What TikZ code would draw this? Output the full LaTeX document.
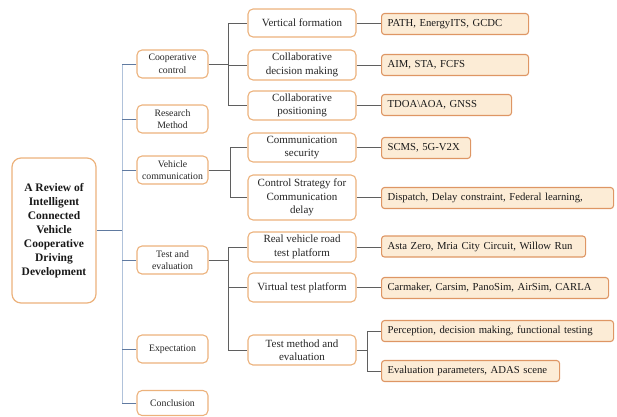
\documentclass[tikz,border=0pt]{standalone}
\usepackage{fontspec}
\setmainfont{Liberation Serif}
\begin{document}
\begin{tikzpicture}[x=1pt,y=-1pt,
  every node/.style={inner sep=1pt},
  rootbox/.style={draw=boxline,fill=white,line width=1.2pt,rounded corners=9pt,
    minimum width=84pt,minimum height=145pt,align=center,
    font=\rmfamily\fontsize{11.5}{14}\selectfont\bfseries,text=black!90},
  lvlone/.style={draw=boxline,fill=white,line width=1.1pt,rounded corners=5pt,
    minimum width=71pt,minimum height=28pt,align=center,
    font=\rmfamily\fontsize{9.8}{12.5}\selectfont,text=black!85},
  lvltwo/.style={draw=boxline,fill=white,line width=1.1pt,rounded corners=5pt,
    minimum width=108pt,align=center,
    font=\rmfamily\fontsize{11}{13.5}\selectfont,text=black!85},
  leaf/.style={draw=leafline,fill=leaffill,line width=1.1pt,rounded corners=3pt,
    minimum height=21pt,anchor=west,align=left,inner xsep=6pt,text width=#1,
    font=\rmfamily\fontsize{10.7}{13}\selectfont,text=black!90},
  trunk/.style={draw=trunkcol,line width=1pt},
  twig/.style={draw=twigcol,line width=1pt},
  branch/.style={draw=branchcol,line width=0.9pt}
]
\definecolor{boxline}{RGB}{236,178,124}
\definecolor{leafline}{RGB}{222,150,100}
\definecolor{leaffill}{RGB}{252,236,214}
\definecolor{trunkcol}{RGB}{176,194,218}
\definecolor{twigcol}{RGB}{96,122,160}
\definecolor{branchcol}{RGB}{95,95,95}

\useasboundingbox (0,0) rectangle (617,416);

% root
\node[rootbox] (root) at (54,230.5) {A Review of\\Intelligent\\Connected\\Vehicle\\Cooperative\\Driving\\Development};

% first level
\node[lvlone] (cc) at (172.5,64) {Cooperative\\control};
\node[lvlone] (rm) at (172.5,119) {Research\\Method};
\node[lvlone] (vc) at (172.5,170) {Vehicle\\communication};
\node[lvlone] (te) at (172.5,260) {Test and\\evaluation};
\node[lvlone] (ex) at (172.5,349) {Expectation};
\node[lvlone,minimum height=25pt] (co) at (172.5,403) {Conclusion};

% second level
\node[lvltwo,minimum height=28pt] (vf)  at (302,23)    {Vertical formation};
\node[lvltwo,minimum height=30pt] (cdm) at (302,65)    {Collaborative\\decision making};
\node[lvltwo,minimum height=29pt] (cp)  at (302,105.5) {Collaborative\\positioning};
\node[lvltwo,minimum height=29pt] (cs)  at (302,147.5) {Communication\\security};
\node[lvltwo,minimum height=45pt] (csc) at (302,197.5) {Control Strategy for\\Communication\\delay};
\node[lvltwo,minimum height=30pt] (rv)  at (302,247)   {Real vehicle road\\test platform};
\node[lvltwo,minimum height=29pt] (vt)  at (302,287.5) {Virtual test platform};
\node[lvltwo,minimum height=30pt] (tm)  at (302,350)   {Test method and\\evaluation};

% third level (text width = box width - 14pt)
\node[leaf=135pt] (l1) at (381,24)    {PATH, EnergyITS, GCDC};
\node[leaf=135pt] (l2) at (381,65)    {AIM, STA, FCFS};
\node[leaf=118pt] (l3) at (381,105)   {TDOA\textbackslash AOA, GNSS};
\node[leaf=77pt]  (l4) at (381,148)   {SCMS, 5G-V2X};
\node[leaf=220pt] (l5) at (381,198)   {Dispatch, Delay constraint, Federal learning,};
\node[leaf=192pt] (l6) at (381,246.5) {Asta Zero, Mria City Circuit, Willow Run};
\node[leaf=215pt] (l7) at (381,288)   {Carmaker, Carsim, PanoSim, AirSim, CARLA};
\node[leaf=220pt] (l8) at (381,331)   {Perception, decision making, functional testing};
\node[leaf=166pt] (l9) at (381,371)   {Evaluation parameters, ADAS scene};

% trunk from the root to the first level
\coordinate (tk) at (122,230.5);
\draw[twig] (root.east) -- (tk);
\draw[trunk] (122,64) -- (122,403);
\foreach \n in {cc,rm,vc,te,ex,co}
  \draw[twig] (\n.west) -- (\n.west -| tk);

% cooperative control branches
\coordinate (bcc) at (228,64);
\draw[branch] (cc.east) -- (bcc);
\draw[branch] (vf.west -| bcc) -- (cp.west -| bcc);
\foreach \n in {vf,cdm,cp}
  \draw[branch] (\n.west -| bcc) -- (\n.west);

% vehicle communication branches
\coordinate (bvc) at (230,170);
\draw[branch] (vc.east) -- (bvc);
\draw[branch] (cs.west -| bvc) -- (csc.west -| bvc);
\foreach \n in {cs,csc}
  \draw[branch] (\n.west -| bvc) -- (\n.west);

% test and evaluation branches
\coordinate (bte) at (228,260);
\draw[branch] (te.east) -- (bte);
\draw[branch] (rv.west -| bte) -- (tm.west -| bte);
\foreach \n in {rv,vt,tm}
  \draw[branch] (\n.west -| bte) -- (\n.west);

% second level to leaves
\draw[branch] (vf.east)  -- (l1.west |- vf.east);
\draw[branch] (cdm.east) -- (l2.west |- cdm.east);
\draw[branch] (cp.east)  -- (l3.west |- cp.east);
\draw[branch] (cs.east)  -- (l4.west |- cs.east);
\draw[branch] (csc.east) -- (l5.west |- csc.east);
\draw[branch] (rv.east)  -- (l6.west |- rv.east);
\draw[branch] (vt.east)  -- (l7.west |- vt.east);

% test method fork
\coordinate (btm) at (367,350);
\draw[branch] (tm.east) -- (btm);
\draw[branch] (l8.west -| btm) -- (l9.west -| btm);
\foreach \n in {l8,l9}
  \draw[branch] (\n.west -| btm) -- (\n.west);
\end{tikzpicture}
\end{document}
